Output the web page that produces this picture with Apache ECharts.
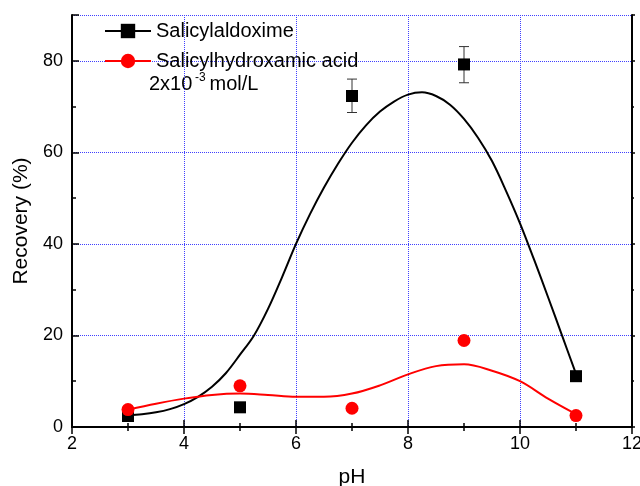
<!DOCTYPE html>
<html>
<head>
<meta charset="utf-8">
<script src="https://cdn.jsdelivr.net/npm/echarts@6/dist/echarts.min.js"></script>
<style>
  html, body { margin: 0; padding: 0; background: #fff; }
  #chart { width: 640px; height: 486px; }
</style>
</head>
<body>
<div id="chart"></div>
<script>
// measured points
const phValues = [3, 5, 7, 9, 11]
const oximeValues = [2.4, 4.3, 72.3, 79.2, 11.1]
const hydroxamicValues = [3.8, 9.0, 4.1, 18.9, 2.5]
// error bars: [pH, low, high]
const oximeErrors = [[7, 68.7, 76.0], [9, 75.2, 83.1]]

// fitted curves
const oximeFitX = [3, 3.25, 3.5, 3.75, 4, 4.25, 4.5, 4.75, 5, 5.25, 5.5, 5.75, 6, 6.25, 6.5, 6.75, 7, 7.25, 7.5, 7.75, 8, 8.25, 8.5, 8.75, 9, 9.25, 9.5, 9.75, 10, 10.25, 10.5, 10.75, 11]
const oximeFitY = [2.6, 2.8, 3.2, 3.9, 5.0, 6.6, 8.8, 11.8, 15.8, 20.0, 25.8, 32.7, 40.0, 46.5, 52.3, 57.5, 62.1, 65.9, 68.9, 71.1, 72.6, 73.1, 72.3, 70.4, 67.3, 63.2, 58.1, 51.6, 44.5, 36.6, 28.4, 20.0, 11.6]
const hydroxamicFitX = [3, 3.5, 4, 4.5, 5, 5.5, 6, 6.5, 7, 7.5, 8, 8.5, 9, 9.5, 10, 10.5, 11]
const hydroxamicFitY = [3.8, 5.1, 6.2, 7.0, 7.3, 7.0, 6.6, 6.6, 7.3, 9.1, 11.5, 13.3, 13.7, 12.3, 10.0, 6.2, 2.8]

const xTicks = [2, 4, 6, 8, 10, 12]
const yTicks = [0, 20, 40, 60, 80]

const font = "'Liberation Sans', Arial, sans-serif"
const zip = (xs, ys) => xs.map((x, i) => [x, ys[i]])

const chart = echarts.init(document.getElementById('chart'))

const gridLine = {
  show: true,
  lineStyle: { color: '#4040ff', type: 'dotted', width: 1 }
}

chart.setOption({
  animation: false,
  textStyle: { fontFamily: font },
  grid: { left: 72, right: 8, top: 15, bottom: 59, outerBoundsMode: 'none' },
  legend: {
    orient: 'vertical',
    left: 104,
    top: 21,
    padding: 0,
    itemWidth: 46,
    itemHeight: 18,
    itemGap: 10,
    textStyle: { fontSize: 20, color: '#000', fontFamily: font },
    lineStyle: { width: 2, opacity: 1 },
    data: ['Salicylaldoxime', 'Salicylhydroxamic acid']
  },
  graphic: [
    { type: 'text', left: 149, top: 74, style: { text: '2x10', fontSize: 20, fontFamily: font, fill: '#000' } },
    { type: 'text', left: 195, top: 72, style: { text: '-3', fontSize: 12, fontFamily: font, fill: '#000' } },
    { type: 'text', left: 204, top: 74, style: { text: ' mol/L', fontSize: 20, fontFamily: font, fill: '#000' } }
  ],
  xAxis: [{
    type: 'value',
    min: xTicks[0],
    max: xTicks[xTicks.length - 1],
    interval: 2,
    name: 'pH',
    nameLocation: 'middle',
    nameGap: 40,
    nameTextStyle: { fontSize: 21, color: '#000', fontFamily: font },
    axisLine: { lineStyle: { color: '#000', width: 2 } },
    axisTick: { inside: true, length: 7, lineStyle: { color: '#000', width: 1.5 } },
    minorTick: { show: true, splitNumber: 2, length: 4, lineStyle: { color: '#000', width: 1.5 } },
    axisLabel: { fontSize: 18, color: '#000', margin: 8, fontFamily: font },
    splitLine: gridLine
  }, {
    type: 'value',
    position: 'top',
    min: xTicks[0],
    max: xTicks[xTicks.length - 1],
    interval: 2,
    axisLine: { lineStyle: { color: '#000', width: 2 } },
    axisTick: { inside: true, length: 7, lineStyle: { color: '#000', width: 1.5 } },
    minorTick: { show: true, splitNumber: 2, length: 4, lineStyle: { color: '#000', width: 1.5 } },
    axisLabel: { show: false },
    splitLine: { show: false }
  }],
  yAxis: [{
    type: 'value',
    min: yTicks[0],
    max: 90,
    interval: 20,
    name: 'Recovery (%)',
    nameLocation: 'middle',
    nameGap: 32,
    nameTextStyle: { fontSize: 21, color: '#000', fontFamily: font },
    axisLine: { show: true, lineStyle: { color: '#000', width: 2 } },
    axisTick: { show: true, inside: true, length: 7, lineStyle: { color: '#000', width: 1.5 } },
    minorTick: { show: true, splitNumber: 2, length: 4, lineStyle: { color: '#000', width: 1.5 } },
    axisLabel: { fontSize: 18, color: '#000', margin: 9, showMaxLabel: false, fontFamily: font },
    splitLine: gridLine
  }, {
    type: 'value',
    position: 'right',
    min: yTicks[0],
    max: 90,
    interval: 20,
    axisLine: { show: true, lineStyle: { color: '#000', width: 2 } },
    axisTick: { show: true, inside: false, length: 3, lineStyle: { color: '#000', width: 1.5 } },
    minorTick: { show: true, splitNumber: 2, length: 2, lineStyle: { color: '#000', width: 1.5 } },
    axisLabel: { show: false },
    splitLine: { show: false }
  }],
  series: [
    {
      name: 'oxime fit',
      type: 'line',
      smooth: 0.35,
      showSymbol: false,
      silent: true,
      data: zip(oximeFitX, oximeFitY),
      lineStyle: { color: '#000', width: 2 },
      itemStyle: { color: '#000' }
    },
    {
      name: 'hydroxamic fit',
      type: 'line',
      smooth: 0.35,
      showSymbol: false,
      silent: true,
      data: zip(hydroxamicFitX, hydroxamicFitY),
      lineStyle: { color: '#ff0000', width: 2 },
      itemStyle: { color: '#ff0000' }
    },
    {
      name: 'error',
      type: 'custom',
      silent: true,
      data: oximeErrors,
      renderItem (params, api) {
        const top = api.coord([api.value(0), api.value(2)])
        const bottom = api.coord([api.value(0), api.value(1)])
        const style = { stroke: '#333', lineWidth: 1 }
        return {
          type: 'group',
          children: [
            { type: 'line', shape: { x1: top[0], y1: top[1], x2: bottom[0], y2: bottom[1] }, style },
            { type: 'line', shape: { x1: top[0] - 5, y1: top[1], x2: top[0] + 5, y2: top[1] }, style },
            { type: 'line', shape: { x1: bottom[0] - 5, y1: bottom[1], x2: bottom[0] + 5, y2: bottom[1] }, style }
          ]
        }
      }
    },
    {
      name: 'Salicylaldoxime',
      type: 'line',
      symbol: 'rect',
      symbolSize: 12,
      data: zip(phValues, oximeValues),
      lineStyle: { color: '#000', width: 0, opacity: 0 },
      itemStyle: { color: '#000' }
    },
    {
      name: 'Salicylhydroxamic acid',
      type: 'line',
      symbol: 'circle',
      symbolSize: 13,
      data: zip(phValues, hydroxamicValues),
      lineStyle: { color: '#ff0000', width: 0, opacity: 0 },
      itemStyle: { color: '#ff0000' }
    }
  ]
})
</script>
</body>
</html>
